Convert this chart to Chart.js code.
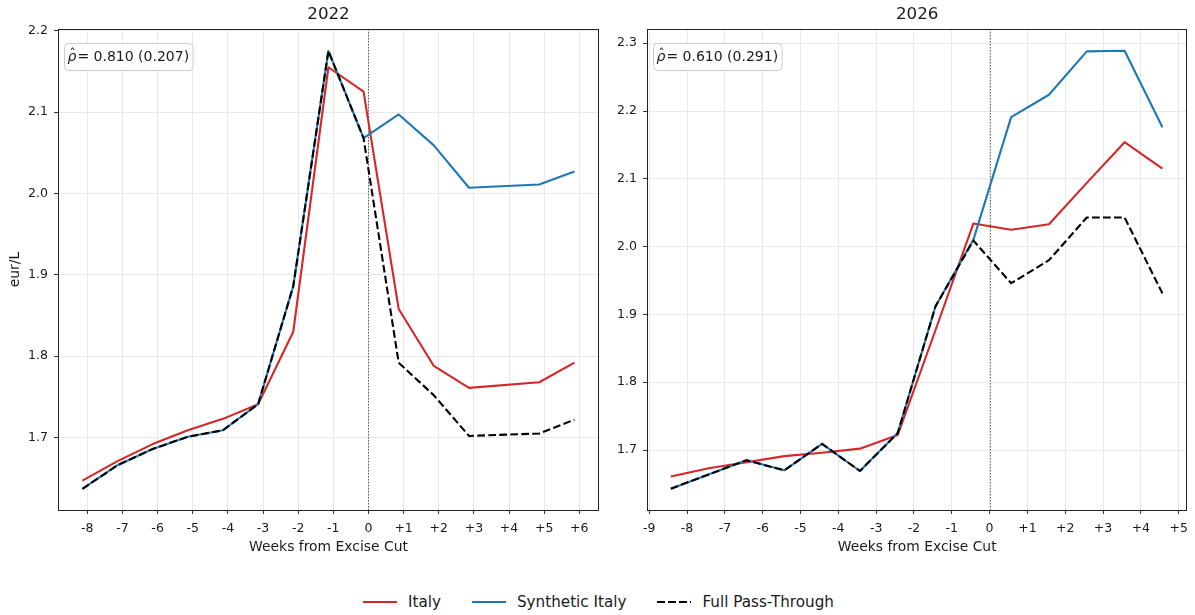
<!DOCTYPE html>
<html>
<head>
<meta charset="utf-8">
<title>Excise cut pass-through</title>
<script src="https://cdn.jsdelivr.net/npm/chart.js@4.4.1/dist/chart.umd.min.js"></script>
<style>
    body { margin: 0; background: #fff; font-family: "DejaVu Sans", sans-serif; color: #1a1a1a; }
    #wrap { position: relative; width: 1195px; height: 615px; overflow: hidden; }
    #panel-2022 { position: absolute; left: 0; top: 0; }
    #panel-2026 { position: absolute; left: 600px; top: 0; }
    #legend { position: absolute; left: 363px; top: 592px; height: 20px; display: flex; align-items: center; font-size: 15.2px; line-height: 20px; }
    #legend .item { display: flex; align-items: center; margin-right: 31px; }
    #legend .swatch { width: 34px; height: 2px; margin-right: 11px; }
</style>
</head>
<body>
<div id="wrap">
    <canvas id="panel-2022" width="600" height="560"></canvas>
    <canvas id="panel-2026" width="595" height="560"></canvas>
    <div id="legend"></div>
</div>
<script>
// weeks relative to the excise cut (day offsets / 7)
const weeks2022 = [-8.14, -7.14, -6.14, -5.14, -4.14, -3.14, -2.14, -1.14, -0.14, 0.86, 1.86, 2.86, 4.86, 5.86];
const italy2022 = [1.647, 1.671, 1.692, 1.709, 1.723, 1.741, 1.830, 2.155, 2.125, 1.858, 1.788, 1.761, 1.768, 1.792];
const synthetic2022 = [1.637, 1.666, 1.686, 1.701, 1.709, 1.741, 1.886, 2.175, 2.068, 2.097, 2.059, 2.007, 2.011, 2.027];
const passThrough2022 = [1.637, 1.666, 1.686, 1.701, 1.709, 1.741, 1.886, 2.175, 2.068, 1.792, 1.752, 1.702, 1.705, 1.722];

const weeks2026 = [-8.43, -7.43, -6.43, -5.43, -4.43, -3.43, -2.43, -1.43, -0.43, 0.57, 1.57, 2.57, 3.57, 4.57];
const italy2026 = [1.661, 1.673, 1.682, 1.691, 1.696, 1.702, 1.722, 1.877, 2.034, 2.025, 2.033, 2.094, 2.154, 2.115];
const synthetic2026 = [1.643, 1.664, 1.685, 1.670, 1.709, 1.669, 1.725, 1.912, 2.010, 2.191, 2.224, 2.288, 2.289, 2.176];
const passThrough2026 = [1.643, 1.664, 1.685, 1.670, 1.709, 1.669, 1.725, 1.912, 2.009, 1.946, 1.980, 2.043, 2.043, 1.931];

const xTicks2022 = [-8, -7, -6, -5, -4, -3, -2, -1, 0, 1, 2, 3, 4, 5, 6];
const xTickLabels2022 = ['-8', '-7', '-6', '-5', '-4', '-3', '-2', '-1', '0', '+1', '+2', '+3', '+4', '+5', '+6'];
const xTicks2026 = [-9, -8, -7, -6, -5, -4, -3, -2, -1, 0, 1, 2, 3, 4, 5];
const xTickLabels2026 = ['-9', '-8', '-7', '-6', '-5', '-4', '-3', '-2', '-1', '0', '+1', '+2', '+3', '+4', '+5'];
const yTicks2022 = [1.7, 1.8, 1.9, 2.0, 2.1, 2.2];
const yTicks2026 = [1.7, 1.8, 1.9, 2.0, 2.1, 2.2, 2.3];

const rho2022 = '0.810 (0.207)';
const rho2026 = '0.610 (0.291)';

const RED = '#d62728';
const BLUE = '#1f77b4';
const FONT = '"DejaVu Sans", sans-serif';
const TEXT = '#1a1a1a';

const series = [
    { label: 'Italy', color: RED, dash: [] },
    { label: 'Synthetic Italy', color: BLUE, dash: [] },
    { label: 'Full Pass-Through', color: '#000', dash: [7.7, 3.3] }
];

function zip(xs, ys) {
    return xs.map((x, i) => ({ x: x, y: ys[i] }));
}

// title, frame, zero line and the rho annotation box
const panelDecor = {
    id: 'panelDecor',
    beforeDatasetsDraw(chart, args, opts) {
        const { ctx, chartArea: a } = chart;
        const px = Math.round(chart.scales.x.getPixelForValue(0)) + 0.5;
        ctx.save();
        ctx.strokeStyle = 'rgba(0,0,0,0.6)';
        ctx.lineWidth = 1;
        ctx.setLineDash([1.5, 1.5]);
        ctx.beginPath();
        ctx.moveTo(px, a.top);
        ctx.lineTo(px, a.bottom);
        ctx.stroke();
        ctx.restore();
    },
    afterDraw(chart, args, opts) {
        const { ctx, chartArea: a } = chart;
        ctx.save();
        ctx.strokeStyle = '#222';
        ctx.lineWidth = 1;
        ctx.strokeRect(Math.round(a.left) + 0.5, Math.round(a.top) + 0.5,
            Math.round(a.right - a.left) - 1, Math.round(a.bottom - a.top));

        ctx.fillStyle = TEXT;
        ctx.font = '16.7px ' + FONT;
        ctx.textAlign = 'center';
        ctx.textBaseline = 'middle';
        ctx.fillText(opts.title, (a.left + a.right) / 2, 15);

        // rho-hat box
        const fs = 14;
        const italic = 'italic ' + fs + 'px ' + FONT;
        const upright = fs + 'px ' + FONT;
        ctx.font = italic;
        const rhoW = ctx.measureText('ρ').width;
        ctx.font = upright;
        const rest = '= ' + opts.rho;
        const restW = ctx.measureText(rest).width;
        const bx = Math.round(a.left) + 6.5, by = Math.round(a.top) + 14.5;
        const bw = rhoW + restW + 8, bh = 27;
        ctx.beginPath();
        ctx.roundRect(bx, by, bw, bh, 4);
        ctx.fillStyle = 'rgba(255,255,255,0.85)';
        ctx.fill();
        ctx.strokeStyle = '#cccccc';
        ctx.stroke();

        const ty = by + bh / 2 + 0.5;
        let tx = bx + 3;
        ctx.fillStyle = TEXT;
        ctx.textAlign = 'left';
        ctx.textBaseline = 'middle';
        ctx.font = italic;
        ctx.fillText('ρ', tx, ty);
        ctx.textAlign = 'center';
        ctx.font = (fs - 2) + 'px ' + FONT;
        ctx.fillText('ˆ', tx + rhoW / 2 + 0.5, ty - 3);
        ctx.textAlign = 'left';
        ctx.font = upright;
        ctx.fillText(rest, tx + rhoW + 1, ty);
        ctx.restore();
    }
};

function makePanel(id, p) {
    return new Chart(document.getElementById(id), {
        type: 'line',
        data: {
            datasets: [
                { label: series[2].label, data: zip(p.weeks, p.pass), borderColor: series[2].color, borderDash: series[2].dash, order: 0 },
                { label: series[1].label, data: zip(p.weeks, p.synth), borderColor: series[1].color, order: 1 },
                { label: series[0].label, data: zip(p.weeks, p.italy), borderColor: series[0].color, order: 2 }
            ]
        },
        options: {
            responsive: false,
            animation: false,
            parsing: false,
            layout: { padding: { top: 29, right: p.padRight, left: 0, bottom: 0 } },
            elements: {
                line: { borderWidth: 2.1, tension: 0, fill: false, borderJoinStyle: 'round', borderCapStyle: 'butt' },
                point: { radius: 0, hoverRadius: 0 }
            },
            plugins: {
                legend: { display: false },
                tooltip: { enabled: false },
                panelDecor: { title: p.title, rho: p.rho }
            },
            scales: {
                x: {
                    type: 'linear',
                    min: p.xMin,
                    max: p.xMax,
                    afterBuildTicks: s => { s.ticks = p.xTicks.map(v => ({ value: v })); },
                    afterFit: s => { s.height = 50; },
                    ticks: {
                        callback: v => p.xLabels[p.xTicks.indexOf(v)],
                        font: { family: FONT, size: 12.5 },
                        color: TEXT,
                        padding: 7,
                        maxRotation: 0,
                        autoSkip: false
                    },
                    grid: { color: '#e8e8e8', lineWidth: 1, tickLength: 4, tickColor: '#333', tickWidth: 1 },
                    border: { display: false },
                    title: {
                        display: true,
                        text: 'Weeks from Excise Cut',
                        font: { family: FONT, size: 13.9 },
                        color: TEXT,
                        padding: { top: 0, bottom: 4 }
                    }
                },
                y: {
                    type: 'linear',
                    min: p.yMin,
                    max: p.yMax,
                    afterBuildTicks: s => { s.ticks = p.yTicks.map(v => ({ value: v })); },
                    afterFit: s => { s.width = p.yWidth; },
                    ticks: {
                        callback: v => v.toFixed(1),
                        font: { family: FONT, size: 12.5 },
                        color: TEXT,
                        padding: 6
                    },
                    grid: { color: '#e8e8e8', lineWidth: 1, tickLength: 4, tickColor: '#333', tickWidth: 1 },
                    border: { display: false },
                    title: {
                        display: p.yTitle !== '',
                        text: p.yTitle,
                        font: { family: FONT, size: 13.9 },
                        color: TEXT,
                        padding: { top: 7, bottom: 7 }
                    }
                }
            }
        },
        plugins: [panelDecor]
    });
}

makePanel('panel-2022', {
    title: '2022', rho: rho2022,
    weeks: weeks2022, italy: italy2022, synth: synthetic2022, pass: passThrough2022,
    xTicks: xTicks2022, xLabels: xTickLabels2022, yTicks: yTicks2022,
    xMin: -8.834, xMax: 6.56, yMin: 1.611, yMax: 2.202,
    yWidth: 58, padRight: 1, yTitle: 'eur/L'
});

makePanel('panel-2026', {
    title: '2026', rho: rho2026,
    weeks: weeks2026, italy: italy2026, synth: synthetic2026, pass: passThrough2026,
    xTicks: xTicks2026, xLabels: xTickLabels2026, yTicks: yTicks2026,
    xMin: -9.06, xMax: 5.23, yMin: 1.6115, yMax: 2.321,
    yWidth: 47, padRight: 7, yTitle: ''
});

// shared legend under both panels
const legend = document.getElementById('legend');
series.forEach(s => {
    const item = document.createElement('div');
    item.className = 'item';
    const sw = document.createElement('div');
    sw.className = 'swatch';
    sw.style.background = s.dash.length
        ? `repeating-linear-gradient(to right, ${s.color} 0 ${s.dash[0]}px, transparent ${s.dash[0]}px ${s.dash[0] + s.dash[1]}px)`
        : s.color;
    const txt = document.createElement('span');
    txt.textContent = s.label;
    item.appendChild(sw);
    item.appendChild(txt);
    legend.appendChild(item);
});
</script>
</body>
</html>
